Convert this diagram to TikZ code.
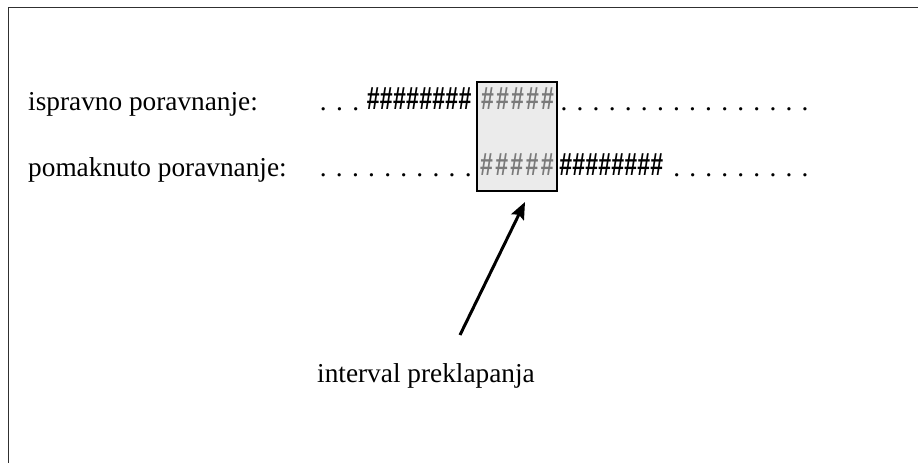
\documentclass[tikz,border=0pt]{standalone}
\usepackage{fontspec}
\setmainfont{Liberation Serif}
\newfontfamily\hashfont[FakeStretch=0.72]{Liberation Sans}
\usetikzlibrary{arrows.meta}
\definecolor{boxfill}{HTML}{EBEBEB}
\definecolor{hashgray}{HTML}{7A7A7A}
\definecolor{framegray}{HTML}{303030}
\tikzset{
  lbl/.style={anchor=base west,inner sep=0pt,font=\fontsize{27.3}{33}\selectfont},
  dotch/.style={anchor=base,inner sep=0pt,font=\fontsize{27.3}{33}\selectfont},
  hashblack/.style={anchor=base,inner sep=0pt,font=\hashfont\bfseries\fontsize{32}{34}\selectfont},
  hashgrey/.style={anchor=base,inner sep=0pt,text=hashgray,font=\hashfont\bfseries\fontsize{32}{34}\selectfont},
  overlapbox/.style={draw=black,line width=2pt,fill=boxfill,inner sep=0pt,minimum width=80pt,minimum height=109pt},
  pointer/.style={line width=3pt,-{Stealth[length=17pt,width=14pt,inset=3pt]}}
}
\begin{document}
\begin{tikzpicture}[x=1pt,y=-1pt]
\useasboundingbox (0,0) rectangle (918,463);
\draw[framegray,line width=1.6pt] (8.5,470) -- (8.5,7.5) -- (925,7.5);
% overlap box
\node[overlapbox] (box) at (516.7,136.2) {};
% labels
\node[lbl] (l1) at (28,110) {ispravno poravnanje:};
\node[lbl] (l2) at (28,176) {pomaknuto poravnanje:};
\node[lbl] (l3) at (317,382) {interval preklapanja};
% row 1
\foreach \i in {0,...,2} \node[dotch] (ra\i) at (323.3+16.2*\i,110) {.};
\foreach \i in {0,...,7} \node[hashblack] (rb\i) at (373.3+13.1*\i,109) {\#};
\foreach \i in {0,...,4} \node[hashgrey] (rc\i) at (487.5+15*\i,109) {\#};
\foreach \i in {0,...,15} \node[dotch] (rd\i) at (564+16.07*\i,110) {.};
% row 2
\foreach \i in {0,...,9} \node[dotch] (sa\i) at (323.3+16.1*\i,176) {.};
\foreach \i in {0,...,4} \node[hashgrey] (sb\i) at (486.5+15.2*\i,175) {\#};
\foreach \i in {0,...,7} \node[hashblack] (sc\i) at (565.8+13*\i,175) {\#};
\foreach \i in {0,...,8} \node[dotch] (sd\i) at (676.7+16.04*\i,176) {.};
% arrow
\coordinate (tail) at (460,335);
\coordinate (tip) at (525,202);
\draw[pointer] (tail) -- (tip);
\end{tikzpicture}
\end{document}
